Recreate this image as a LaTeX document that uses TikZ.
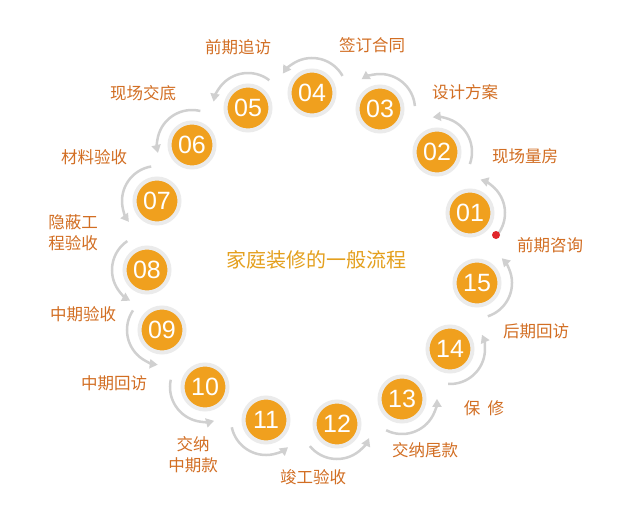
\documentclass[tikz,border=0pt]{standalone}
\usepackage{fontspec}
\newfontfamily\cjk{Noto Sans CJK SC}
\newfontfamily\numfont{Liberation Sans}
\usetikzlibrary{arrows.meta,backgrounds}
\definecolor{orangefill}{RGB}{240,160,30}
\definecolor{halo}{RGB}{235,235,235}
\definecolor{linkgray}{RGB}{214,214,214}
\definecolor{arcgray}{RGB}{208,208,208}
\definecolor{labelc}{RGB}{210,110,35}
\definecolor{titlec}{RGB}{228,160,30}
\definecolor{dotred}{RGB}{224,38,42}
\tikzset{
  stepnode/.style={circle,inner sep=0pt,minimum size=45pt,fill=orangefill,draw=halo,line width=4pt,
    text=white,font=\numfont\fontsize{25}{25}\selectfont},
  link/.style={draw=linkgray,line width=2pt},
  flowarc/.style={draw=arcgray,line width=2.5pt,-{Triangle[length=8pt,width=9pt]}},
  lab/.style={text=labelc,font=\cjk\fontsize{16.5}{21}\selectfont,inner sep=0pt,align=center},
}
\begin{document}
\begin{tikzpicture}[x=1pt,y=1pt]
\useasboundingbox (0,0) rectangle (620,515);
\fill[white] (0,0) rectangle (620,515);
% circles
\foreach \i/\x/\y in {01/470/302,02/437/363,03/380/406,04/312/422,05/248/407,06/192/370,07/157/314,08/147/245,09/162/185,10/205/128,11/266/95,12/337/91,13/402/116,14/450/166,15/477/232}
  \node[stepnode] (n\i) at (\x,\y) {\i};
% links between consecutive circles
\begin{scope}[on background layer]
\foreach \i/\j in {01/02,02/03,03/04,04/05,05/06,06/07,07/08,08/09,09/10,10/11,11/12,12/13,13/14,14/15,15/01}
  \draw[link] (n\i.center) -- (n\j.center);
\end{scope}
% flow arcs
\foreach \i/\a in {01/15.7,02/39.9,03/64.8,04/89.3,05/112.5,06/136.2,07/159.6,08/184.2,09/206,10/228,11/252,12/279.2,13/303.1,14/327,15/348}{
  \pgfmathsetmacro\sa{\a-60}
  \pgfmathsetmacro\ea{\a+57}
  \draw[flowarc] (n\i.center) ++(\sa:35pt) arc[start angle=\sa,end angle=\ea,radius=35pt];
}
% red dot
\fill[dotred] (496,280) circle[radius=4pt];
% labels
\node[lab] (l01) at (550,270) {前期咨询};
\node[lab] (l02) at (525,359) {现场量房};
\node[lab] (l03) at (465,423) {设计方案};
\node[lab] (l04) at (372,470) {签订合同};
\node[lab] (l05) at (238,468) {前期追访};
\node[lab] (l06) at (143,422) {现场交底};
\node[lab] (l07) at (94,358) {材料验收};
\node[lab] (l08) at (73,282) {隐蔽工\\程验收};
\node[lab] (l09) at (83,201) {中期验收};
\node[lab] (l10) at (114,132) {中期回访};
\node[lab] (l11) at (193,60) {交纳\\中期款};
\node[lab] (l12) at (313,38) {竣工验收};
\node[lab] (l13) at (425,65) {交纳尾款};
\node[lab] (l14) at (484,107) {保\ \ 修};
\node[lab] (l15) at (536,184) {后期回访};
% title
\node[text=titlec,font=\cjk\fontsize{20}{24}\selectfont,inner sep=0pt] (title) at (316,255) {家庭装修的一般流程};
\end{tikzpicture}
\end{document}
